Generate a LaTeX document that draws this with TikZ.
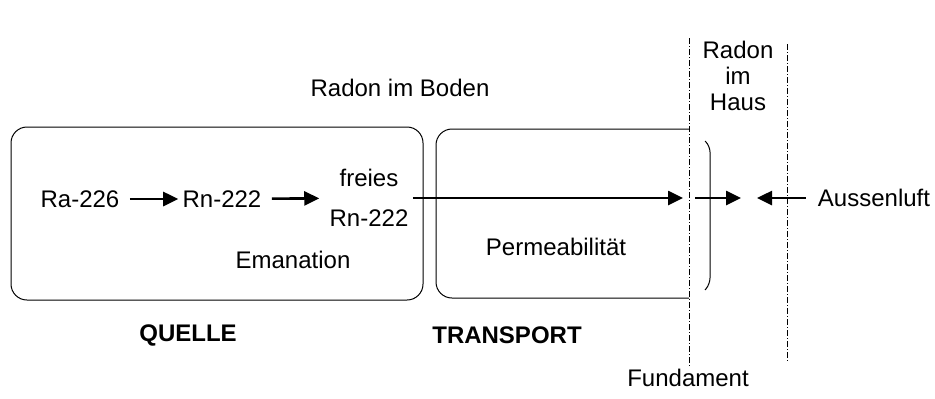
\documentclass[tikz,border=0pt]{standalone}
\usepackage{fontspec}
\setmainfont{Liberation Sans}
\usetikzlibrary{arrows.meta, positioning}

\begin{document}
\begin{tikzpicture}[
    x=0.5pt, y=-0.5pt,
    every node/.style={align=center, inner sep=2pt, font=\fontsize{12}{13}\selectfont},
    title/.style={font=\fontsize{12}{13}\selectfont\bfseries},
    box/.style={draw, line width=0.5pt, rounded corners=8pt},
    border/.style={draw, line width=0.4pt, dash pattern=on 3pt off 1pt on 0.5pt off 1pt},
    arrow/.style={-{Triangle[length=7.5pt, width=7pt]}, line width=1.3pt}
]
\useasboundingbox (0,0) rectangle (935,398);

% Nodes
\node (ra) at (80,199) {Ra-226};
\node (rna) at (222,199) {Rn-222};
\node (frei) at (369,198) {freies\\[7pt]Rn-222};
\node (eman) at (293,260) {Emanation};
\node (perm) at (556,247) {Permeabilität};
\node (boden) at (400,88) {Radon im Boden};
\node (haus) at (738,76) {Radon\\im\\Haus};
\node[title] (quelle) at (188,335) {QUELLE};
\node[title] (transport) at (507,335) {TRANSPORT};
\node (fundament) at (688,378) {Fundament};
\node (aussen) at (874,198) {Aussenluft};

% Boxes and borders
\draw[box] (11,127) rectangle (423,300);
\draw[box] (689,129) -- (436,129) -- (436,298) -- (689,298);
\draw[rounded corners=3pt, line width=0.5pt] (705,141) -- (710,146) -- (710,284) -- (705,290);
\coordinate (fundtop) at (689,38);
\coordinate (fundbot) at (689,366);
\coordinate (haustop) at (787,44);
\coordinate (hausbot) at (787,362);
\draw[border] (fundtop) -- (fundbot);
\draw[border] (haustop) -- (hausbot);

% Connections
\coordinate (soilend) at (683,198);
\coordinate (housein) at (695,198);
\coordinate (houseend) at (741,198);
\coordinate (airend) at (757,198);
\draw[arrow, shorten <=3pt] (ra) -- (rna);
\draw[arrow, shorten <=3pt, shorten >=3pt] (rna) -- (frei);
\draw[arrow] (frei.east) -- (soilend);
\draw[arrow] (housein) -- (houseend);
\draw[arrow, shorten <=4pt] (aussen.west) -- (airend);

\end{tikzpicture}
\end{document}
